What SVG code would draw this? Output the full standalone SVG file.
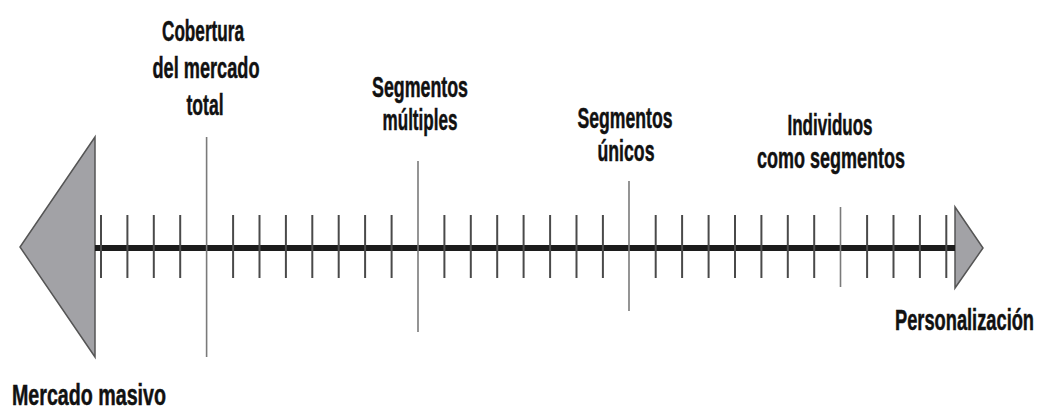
<svg xmlns="http://www.w3.org/2000/svg" width="1041" height="410" viewBox="0 0 1041 410">
<style>
.lbl{font-family:"Liberation Sans",Arial,sans-serif;font-weight:bold;font-size:29px;fill:#111;stroke:#111;stroke-width:0.5;text-anchor:middle}
.end{font-family:"Liberation Sans",Arial,sans-serif;font-weight:bold;font-size:29px;fill:#111;stroke:#111;stroke-width:0.5}
.tri{fill:#a2a2a6;stroke:#555;stroke-width:1.5;stroke-linejoin:miter}
.tick{stroke:#4a4a4a;stroke-width:2}
.long{stroke:#7a7a7a;stroke-width:1.6}
.axis{stroke:#1c1c1c;stroke-width:6}
</style>
<rect width="1041" height="410" fill="#fff"/>
<g id="mercado-masivo">
<polygon class="tri" points="95,137 95,357 20,247"/>
<text class="end" x="12" y="405" textLength="154" lengthAdjust="spacingAndGlyphs">Mercado masivo</text>
</g>
<g id="personalizacion">
<polygon class="tri" points="955,207 955,288 983,248"/>
<text class="end" transform="translate(895,330) scale(0.63,1)" x="0" y="0">Personalización</text>
</g>
<g id="connectors">
<line class="axis" x1="95" y1="248" x2="955" y2="248"/>
<g id="ticks">
<line class="tick" x1="101" y1="215" x2="101" y2="278"/>
<line class="tick" x1="127.4" y1="215" x2="127.4" y2="278"/>
<line class="tick" x1="153.8" y1="215" x2="153.8" y2="278"/>
<line class="tick" x1="180.2" y1="215" x2="180.2" y2="278"/>
<line class="tick" x1="233.1" y1="215" x2="233.1" y2="278"/>
<line class="tick" x1="259.5" y1="215" x2="259.5" y2="278"/>
<line class="tick" x1="285.9" y1="215" x2="285.9" y2="278"/>
<line class="tick" x1="312.3" y1="215" x2="312.3" y2="278"/>
<line class="tick" x1="338.7" y1="215" x2="338.7" y2="278"/>
<line class="tick" x1="365.1" y1="215" x2="365.1" y2="278"/>
<line class="tick" x1="391.6" y1="215" x2="391.6" y2="278"/>
<line class="tick" x1="444.4" y1="215" x2="444.4" y2="278"/>
<line class="tick" x1="470.8" y1="215" x2="470.8" y2="278"/>
<line class="tick" x1="497.2" y1="215" x2="497.2" y2="278"/>
<line class="tick" x1="523.6" y1="215" x2="523.6" y2="278"/>
<line class="tick" x1="550.1" y1="215" x2="550.1" y2="278"/>
<line class="tick" x1="576.5" y1="215" x2="576.5" y2="278"/>
<line class="tick" x1="602.9" y1="215" x2="602.9" y2="278"/>
<line class="tick" x1="655.7" y1="215" x2="655.7" y2="278"/>
<line class="tick" x1="682.1" y1="215" x2="682.1" y2="278"/>
<line class="tick" x1="708.6" y1="215" x2="708.6" y2="278"/>
<line class="tick" x1="735" y1="215" x2="735" y2="278"/>
<line class="tick" x1="761.4" y1="215" x2="761.4" y2="278"/>
<line class="tick" x1="787.8" y1="215" x2="787.8" y2="278"/>
<line class="tick" x1="814.2" y1="215" x2="814.2" y2="278"/>
<line class="tick" x1="867.1" y1="215" x2="867.1" y2="278"/>
<line class="tick" x1="893.5" y1="215" x2="893.5" y2="278"/>
<line class="tick" x1="919.9" y1="215" x2="919.9" y2="278"/>
<line class="tick" x1="946.3" y1="215" x2="946.3" y2="278"/>
</g>
</g>
<g id="cobertura">
<line class="long" x1="206.6" y1="137" x2="206.6" y2="357"/>
<text class="lbl" x="203" y="41" textLength="82" lengthAdjust="spacingAndGlyphs">Cobertura</text>
<text class="lbl" x="206" y="78" textLength="107" lengthAdjust="spacingAndGlyphs">del mercado</text>
<text class="lbl" x="205" y="115" textLength="37" lengthAdjust="spacingAndGlyphs">total</text>
</g>
<g id="segmentos-multiples">
<line class="long" x1="418" y1="161" x2="418" y2="332"/>
<text class="lbl" x="420" y="97" textLength="96" lengthAdjust="spacingAndGlyphs">Segmentos</text>
<text class="lbl" x="420" y="130" textLength="75" lengthAdjust="spacingAndGlyphs">múltiples</text>
</g>
<g id="segmentos-unicos">
<line class="long" x1="629" y1="181" x2="629" y2="311"/>
<text class="lbl" x="625" y="128" textLength="95" lengthAdjust="spacingAndGlyphs">Segmentos</text>
<text class="lbl" x="626" y="161" textLength="57" lengthAdjust="spacingAndGlyphs">únicos</text>
</g>
<g id="individuos">
<line class="long" x1="840.5" y1="207" x2="840.5" y2="287"/>
<text class="lbl" x="830" y="135" textLength="85" lengthAdjust="spacingAndGlyphs">Individuos</text>
<text class="lbl" x="831" y="168" textLength="148" lengthAdjust="spacingAndGlyphs">como segmentos</text>
</g>
</svg>
